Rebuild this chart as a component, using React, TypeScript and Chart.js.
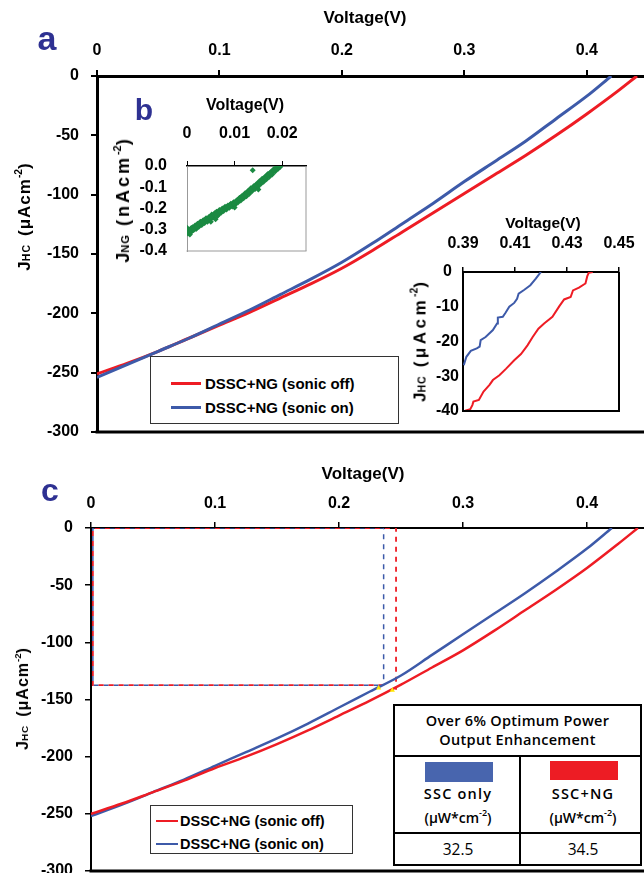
import React, { useEffect, useRef } from 'react';
import { Chart, registerables } from 'chart.js';
Chart.register(...registerables);

const FONT = "'Liberation Sans', Arial, Helvetica, sans-serif";
const TFONT = "'Open Sans', 'Noto Sans', sans-serif";
const RED = '#ee1c24';
const BLUE = '#3d5aa9';
const GREEN = '#1b8a42';
const NAVY = '#2e3192';

// ---------- Panel a: J-V curves ----------
const voltBlueA = [0, 0.025, 0.05, 0.075, 0.1, 0.125, 0.15, 0.175, 0.2, 0.225, 0.25, 0.275, 0.3, 0.325, 0.35, 0.375, 0.4, 0.42];
const jBlueA = [-254, -243, -232, -221, -209, -197, -184, -171, -157, -141, -124, -107, -89, -72, -55, -36, -17, 0];
const voltRedA = [0, 0.025, 0.05, 0.075, 0.1, 0.125, 0.15, 0.175, 0.2, 0.225, 0.25, 0.275, 0.3, 0.325, 0.35, 0.375, 0.4, 0.425, 0.441];
const jRedA = [-251, -242, -232, -221, -210, -199, -187, -175, -162, -147, -131, -115, -99, -83, -67, -50, -32, -13, 0];

// ---------- Inset b: NG current ----------
const voltNG = [0.0000, 0.0002, 0.0004, 0.0006, 0.0008, 0.0010, 0.0012, 0.0014, 0.0017, 0.0019, 0.0022, 0.0025, 0.0028, 0.0031, 0.0034, 0.0037, 0.0040, 0.0043, 0.0046, 0.0049, 0.0052, 0.0055, 0.0058, 0.0060, 0.0062, 0.0065, 0.0068, 0.0071, 0.0074, 0.0077, 0.0080, 0.0083, 0.0086, 0.0089, 0.0092, 0.0095, 0.0098, 0.0101, 0.0104, 0.0107, 0.0110, 0.0113, 0.0116, 0.0119, 0.0122, 0.0125, 0.0128, 0.0131, 0.0134, 0.0137, 0.0138, 0.0140, 0.0143, 0.0146, 0.0149, 0.0152, 0.0155, 0.0158, 0.0161, 0.0164, 0.0167, 0.0170, 0.0173, 0.0176, 0.0179, 0.0182, 0.0185, 0.0188, 0.0191, 0.0194, 0.0196, 0.0050, 0.0100, 0.0150, 0.0003, 0.0021, 0.0064, 0.0112, 0.0157,
  0.0001, 0.0005, 0.0009, 0.0013, 0.0016, 0.0020, 0.0024, 0.0027, 0.0030, 0.0033, 0.0036, 0.0039, 0.0042, 0.0045, 0.0048, 0.0051, 0.0054, 0.0057, 0.0061, 0.0066, 0.0069, 0.0072, 0.0075, 0.0078, 0.0081, 0.0084, 0.0087, 0.0090, 0.0093, 0.0096, 0.0099, 0.0102, 0.0105, 0.0108, 0.0111, 0.0114, 0.0117, 0.0120, 0.0123, 0.0126, 0.0129, 0.0132, 0.0135, 0.0141, 0.0144, 0.0147, 0.0150, 0.0153, 0.0156, 0.0159, 0.0162, 0.0165, 0.0168, 0.0171, 0.0174, 0.0177, 0.0180, 0.0183, 0.0186, 0.0189, 0.0192, 0.0195];
const jNG = [-0.290, -0.318, -0.300, -0.322, -0.295, -0.308, -0.288, -0.301, -0.280, -0.296, -0.272, -0.286, -0.262, -0.278, -0.255, -0.268, -0.246, -0.262, -0.240, -0.252, -0.228, -0.242, -0.222, -0.250, -0.215, -0.230, -0.207, -0.221, -0.200, -0.212, -0.192, -0.205, -0.186, -0.197, -0.178, -0.190, -0.170, -0.182, -0.162, -0.172, -0.150, -0.162, -0.140, -0.152, -0.128, -0.142, -0.118, -0.130, -0.105, -0.118, -0.020, -0.095, -0.108, -0.085, -0.098, -0.072, -0.085, -0.060, -0.074, -0.050, -0.062, -0.038, -0.050, -0.028, -0.040, -0.015, -0.026, -0.006, -0.014, 0.000, -0.004, -0.262, -0.195, -0.110, -0.310, -0.290, -0.235, -0.148, -0.075,
  -0.305, -0.312, -0.292, -0.296, -0.290, -0.283, -0.275, -0.271, -0.266, -0.260, -0.259, -0.252, -0.255, -0.248, -0.243, -0.236, -0.234, -0.228, -0.226, -0.219, -0.214, -0.208, -0.206, -0.199, -0.198, -0.192, -0.191, -0.184, -0.183, -0.176, -0.176, -0.168, -0.166, -0.158, -0.156, -0.148, -0.146, -0.138, -0.136, -0.126, -0.124, -0.112, -0.112, -0.102, -0.092, -0.090, -0.080, -0.079, -0.068, -0.066, -0.056, -0.055, -0.044, -0.043, -0.034, -0.033, -0.022, -0.021, -0.012, -0.010, -0.005, -0.002];

// ---------- Inset: zoom near Voc ----------
const voltBlueZ = [0.3903, 0.3913, 0.393, 0.3953, 0.3964, 0.3968, 0.3987, 0.4015, 0.4031, 0.4034, 0.4053, 0.4063, 0.4078, 0.4097, 0.4108, 0.4114, 0.4136, 0.4159, 0.418, 0.4196, 0.42];
const jBlueZ = [-26.8, -24.4, -22.7, -22, -21.5, -19.6, -18.7, -16.7, -14.8, -13.1, -12.9, -11.8, -10, -8.9, -7.7, -6.2, -5.1, -3.8, -1.9, -0.3, 0];
const voltRedZ = [0.3908, 0.3928, 0.3936, 0.394, 0.3961, 0.3979, 0.4002, 0.4015, 0.404, 0.4066, 0.4097, 0.4123, 0.4148, 0.4168, 0.419, 0.4212, 0.4244, 0.427, 0.4289, 0.4314, 0.4323, 0.4346, 0.4371, 0.4378, 0.4384, 0.4399];
const jRedZ = [-39.9, -39.5, -38.3, -37.3, -36.8, -34.4, -32.5, -31.1, -29.7, -27.8, -25.4, -23.6, -21.1, -18.7, -16.3, -14.8, -12.9, -9.9, -7.9, -7.2, -5.3, -4.5, -3.3, -1.2, -0.2, 0];

// ---------- Panel c ----------
const voltBlueC = [0, 0.025, 0.05, 0.075, 0.1, 0.125, 0.15, 0.175, 0.2, 0.225, 0.25, 0.275, 0.3, 0.325, 0.35, 0.375, 0.4, 0.42];
const jBlueC = [-252, -242, -231, -220, -208, -196, -184, -171, -157, -143, -129, -111, -93, -75, -57, -38, -18, 0];
const voltRedC = [0, 0.025, 0.05, 0.075, 0.1, 0.125, 0.15, 0.175, 0.2, 0.225, 0.25, 0.275, 0.3, 0.325, 0.35, 0.375, 0.4, 0.425, 0.441];
const jRedC = [-250, -241, -231, -221, -210, -200, -189, -177, -164, -151, -137, -122, -107, -90, -72, -54, -35, -14, 0];
const mppVoltBlue = 0.236;
const mppVoltRed = 0.246;
const mppJ = -137.5;
const mppRedDropJ = -141.5;
const boxLeftVolt = 0.0015;
const markerVolts = [0.232, 0.243];
const markerJs = [-140, -142];

// table & legend text
const tableHeader = ['Over 6% Optimum Power', 'Output Enhancement'];
const tableCols = ['SSC only', 'SSC+NG'];
const tableValues = ['32.5', '34.5'];
const legendLabels = ['DSSC+NG (sonic off)', 'DSSC+NG (sonic on)'];

const pts = (xs: number[], ys: (number | null)[]) => xs.map((x, i) => ({ x, y: ys[i] }));

const framePlugin = {
  id: 'frame',
  afterDatasetsDraw(chart: any, _a: any, opts: any) {
    const { ctx, chartArea: a } = chart;
    ctx.save();
    if (opts && opts.bottom) {
      ctx.strokeStyle = opts.bottom.color;
      ctx.lineWidth = opts.bottom.width;
      ctx.beginPath();
      ctx.moveTo(a.left - opts.bottom.width / 2, a.bottom);
      ctx.lineTo(a.right + opts.bottom.width / 2, a.bottom);
      ctx.stroke();
    }
    if (opts && opts.right) {
      ctx.strokeStyle = opts.right.color;
      ctx.lineWidth = opts.right.width;
      ctx.beginPath();
      ctx.moveTo(a.right, a.top);
      ctx.lineTo(a.right, a.bottom);
      ctx.stroke();
    }
    ctx.restore();
  },
};

const fmt = (d: number) => (v: any) => {
  const n = Number(Number(v).toFixed(d));
  return (Object.is(n, -0) ? 0 : n).toFixed(d);
};
const fmtTrim = (v: any) => {
  const n = Number(Number(v).toFixed(3));
  return String(Object.is(n, -0) ? 0 : n);
};

function axisX(o: any) {
  return {
    type: 'linear', position: 'top', min: o.min, max: o.max, bounds: 'data',
    afterFit: (s: any) => { s.height = o.h; },
    border: { display: true, color: o.borderColor || '#000', width: o.borderW },
    grid: { display: true, drawOnChartArea: false, drawTicks: true, tickLength: o.tick, color: '#000', lineWidth: o.tickW },
    ticks: { stepSize: o.step, includeBounds: o.includeBounds ?? false, padding: o.pad, color: '#000', maxRotation: 0, autoSkip: false,
      font: { family: FONT, size: o.size, weight: 'bold' }, callback: o.cb || fmtTrim },
  };
}
function axisY(o: any) {
  return {
    type: 'linear', position: 'left', min: o.min, max: o.max, bounds: 'data',
    afterFit: (s: any) => { s.width = o.w; },
    border: { display: true, color: o.borderColor || '#000', width: o.borderW },
    grid: { display: o.tick > 0, drawOnChartArea: false, drawTicks: true, tickLength: o.tick, color: '#000', lineWidth: o.tickW },
    ticks: { stepSize: o.step, padding: o.pad, color: '#000', autoSkip: false, crossAlign: o.cross || 'near',
      font: { family: FONT, size: o.size, weight: 'bold' }, callback: o.cb || fmtTrim },
  };
}

function baseOptions(pad: any, frame: any, scales: any) {
  return {
    responsive: false, animation: false, events: [],
    layout: { padding: pad },
    plugins: { legend: { display: false }, tooltip: { enabled: false }, frame },
    scales,
  };
}

function ChartBox({ left, top, width, height, make }: any) {
  const ref = useRef<HTMLCanvasElement>(null);
  useEffect(() => {
    const chart = new Chart(ref.current as HTMLCanvasElement, make());
    return () => chart.destroy();
  }, []);
  return (
    <div style={{ position: 'absolute', left, top, width, height }}>
      <canvas ref={ref} width={width} height={height} style={{ width, height, display: 'block' }} />
    </div>
  );
}

const line = (data: any, color: string, w: number, extra: any = {}) => ({
  data, borderColor: color, backgroundColor: color, borderWidth: w, pointRadius: 0, fill: false,
  cubicInterpolationMode: 'monotone', ...extra,
});

// Panel a: chart area 97..648 x 76..432
const makeA = () => ({
  type: 'line',
  data: { datasets: [line(pts(voltBlueA, jBlueA), BLUE, 3), line(pts(voltRedA, jRedA), RED, 3)] },
  options: baseOptions({ top: 0, left: 0, right: 12, bottom: 23 }, { bottom: { color: '#000', width: 3 } }, {
    x: axisX({ min: 0, max: 0.45, step: 0.1, h: 76, tick: 6, tickW: 2, borderW: 3, pad: 10, size: 16 }),
    y: axisY({ min: -300, max: 0, step: 50, w: 97, tick: 6, tickW: 2, borderW: 3, pad: 12, size: 16 }),
  }),
  plugins: [framePlugin],
});

// Inset b: chart area 187..306 x 166..251
const makeB = () => ({
  type: 'scatter',
  data: { datasets: [{ data: pts(voltNG, jNG), backgroundColor: GREEN, borderColor: GREEN, pointRadius: 3, pointStyle: 'rectRot', borderWidth: 0 }] },
  options: baseOptions({ top: 0, left: 0, right: 16, bottom: 31 }, { bottom: { color: '#999', width: 1 }, right: { color: '#999', width: 1 } }, {
    x: axisX({ min: 0, max: 0.025, step: 0.01, h: 71, tick: 5, tickW: 1, borderW: 1.5, pad: 18, size: 16 }),
    y: axisY({ min: -0.4, max: 0, step: 0.1, w: 87, tick: 0, tickW: 1, borderW: 1, borderColor: '#999', pad: 20, size: 16, cb: fmt(1) }),
  }),
  plugins: [framePlugin],
});

// Inset: chart area 463..619 x 272..411
const makeZ = () => ({
  type: 'line',
  data: { datasets: [line(pts(voltBlueZ, jBlueZ), BLUE, 2, { cubicInterpolationMode: 'default', tension: 0 }), line(pts(voltRedZ, jRedZ), RED, 2, { cubicInterpolationMode: 'default', tension: 0 })] },
  options: baseOptions({ top: 0, left: 0, right: 31, bottom: 15 }, { bottom: { color: '#000', width: 2 }, right: { color: '#000', width: 2 } }, {
    x: axisX({ min: 0.39, max: 0.45, step: 0.02, h: 72, tick: 5, tickW: 1.5, borderW: 2, pad: 14, size: 16, includeBounds: true, cb: fmt(2) }),
    y: axisY({ min: -40, max: 0, step: 10, w: 63, tick: 0, tickW: 1, borderW: 2, pad: 4, size: 16, cross: 'center' }),
  }),
  plugins: [framePlugin],
});

// Panel c: chart area 91..649 x 528..871
const makeC = () => {
  const blueBox = [
    { x: mppVoltBlue, y: mppJ }, { x: boxLeftVolt, y: mppJ }, { x: boxLeftVolt, y: 0 }, { x: mppVoltBlue, y: 0 }, { x: mppVoltBlue, y: mppJ },
  ];
  const redBox = [
    { x: mppVoltBlue, y: mppJ }, { x: boxLeftVolt, y: mppJ }, { x: boxLeftVolt, y: 0 }, { x: mppVoltRed, y: 0 }, { x: mppVoltRed, y: mppRedDropJ },
  ];
  return {
    type: 'line',
    data: {
      datasets: [
        { data: pts(markerVolts, markerJs), showLine: false, pointRadius: 3, pointStyle: 'triangle', backgroundColor: '#ffe600', borderColor: '#ffe600', borderWidth: 0 },
        line(pts(voltRedC, jRedC), RED, 2.5),
        line(pts(voltBlueC, jBlueC), BLUE, 2.5),
        line(redBox, RED, 1.8, { borderDash: [5, 5], borderDashOffset: 0, cubicInterpolationMode: 'default', tension: 0 }),
        line(blueBox, BLUE, 1.5, { borderDash: [5, 5], borderDashOffset: 5, cubicInterpolationMode: 'default', tension: 0 }),
      ],
    },
    options: baseOptions({ top: 0, left: 0, right: 12, bottom: 23 }, { bottom: { color: '#000', width: 3 } }, {
      x: axisX({ min: 0, max: 0.45, step: 0.1, h: 78, tick: 6, tickW: 1.5, borderW: 2, pad: 9, size: 16 }),
      y: axisY({ min: -300, max: 0, step: 50, w: 91, tick: 6, tickW: 1.5, borderW: 2, pad: 12, size: 16 }),
    }),
    plugins: [framePlugin],
  };
};

function Text({ cx, cy, size, children, weight = 'bold', color = '#000', family = FONT, style = {} }: any) {
  return (
    <div style={{ position: 'absolute', left: cx, top: cy, transform: 'translate(-50%,-50%)', whiteSpace: 'nowrap',
      fontFamily: family, fontWeight: weight, fontSize: size, lineHeight: 1, color, ...style }}>{children}</div>
  );
}

function YTitle({ cx, cy, size, sub, unit, spacing, gap }: any) {
  return (
    <div style={{ position: 'absolute', left: cx, top: cy, transform: 'translate(-50%,-50%) rotate(-90deg)', whiteSpace: 'nowrap',
      fontFamily: FONT, fontWeight: 'bold', fontSize: size, lineHeight: 1, color: '#000' }}>
      <span>J</span>
      <span style={{ fontSize: size * 0.62, letterSpacing: 1 }}>{sub}</span>
      <span style={{ marginLeft: gap, letterSpacing: spacing }}>({unit}</span>
      <span style={{ fontSize: size * 0.6, position: 'relative', top: -size * 0.45 }}>-2</span>
      <span>)</span>
    </div>
  );
}

function Legend({ left, top, width, height, rows, lineX, lineW, lineT, textX, size }: any) {
  return (
    <div style={{ position: 'absolute', left, top, width, height, boxSizing: 'border-box', border: '1px solid #333', background: '#fff' }}>
      {rows.map((r: any, i: number) => (
        <React.Fragment key={i}>
          <div style={{ position: 'absolute', left: lineX, top: r.y - lineT / 2, width: lineW, height: lineT, background: r.color }} />
          <div style={{ position: 'absolute', left: textX, top: r.y, transform: 'translateY(-50%)', whiteSpace: 'nowrap', fontFamily: FONT,
            fontWeight: 'bold', fontSize: size, lineHeight: 1, color: '#000' }}>{r.label}</div>
        </React.Fragment>
      ))}
    </div>
  );
}

function Table() {
  const L = 393, T = 704, W = 249, H = 162;
  const mid = 519 - L;
  const r1 = 755 - T, r2 = 832 - T;
  return (
    <div style={{ position: 'absolute', left: L, top: T, width: W, height: H, boxSizing: 'border-box', border: '2px solid #000', background: '#fff' }}>
      <div style={{ position: 'absolute', left: 0, right: 0, top: r1 - 2, height: 1.5, background: '#000' }} />
      <div style={{ position: 'absolute', left: 0, right: 0, top: r2 - 2, height: 1.5, background: '#000' }} />
      <div style={{ position: 'absolute', left: mid - 2, top: r1 - 2, width: 1.5, height: H - r1, background: '#000' }} />
      <Text cx={W / 2 - 2} cy={720.5 - T - 2} size={14.5} weight={600} family={TFONT} style={{ letterSpacing: 0.3 }}>{tableHeader[0]}</Text>
      <Text cx={W / 2 - 2} cy={740 - T - 2} size={14.5} weight={600} family={TFONT} style={{ letterSpacing: 0.3 }}>{tableHeader[1]}</Text>
      <div style={{ position: 'absolute', left: 425 - L - 2, top: 762 - T - 2, width: 68, height: 20, background: '#4865ae' }} />
      <div style={{ position: 'absolute', left: 550 - L - 2, top: 761 - T - 2, width: 68, height: 19, background: '#ed1c24' }} />
      <Text cx={458 - L - 2} cy={794 - T - 2} size={14.5} weight={600} family={TFONT} style={{ letterSpacing: 1.2 }}>{tableCols[0]}</Text>
      <Text cx={583 - L - 2} cy={794 - T - 2} size={14.5} weight={600} family={TFONT} style={{ letterSpacing: 1.2 }}>{tableCols[1]}</Text>
      <Text cx={458 - L - 2} cy={817 - T - 2} size={14} weight={600} family={TFONT}>(μW*cm<sup style={{ fontSize: 9, position: 'relative', top: -1 }}>-2</sup>)</Text>
      <Text cx={583 - L - 2} cy={817 - T - 2} size={14} weight={600} family={TFONT}>(μW*cm<sup style={{ fontSize: 9, position: 'relative', top: -1 }}>-2</sup>)</Text>
      <Text cx={458 - L - 2} cy={850 - T - 2} size={15.5} weight={400} family={TFONT}>{tableValues[0]}</Text>
      <Text cx={583 - L - 2} cy={850 - T - 2} size={15.5} weight={400} family={TFONT}>{tableValues[1]}</Text>
    </div>
  );
}

export default function App() {
  return (
    <div style={{ position: 'absolute', left: 0, top: 0, width: 644, height: 873, overflow: 'hidden', background: '#fff' }}>
      <ChartBox left={0} top={0} width={660} height={455} make={makeA} />
      <ChartBox left={100} top={95} width={222} height={187} make={makeB} />
      <ChartBox left={400} top={200} width={250} height={226} make={makeZ} />
      <ChartBox left={0} top={450} width={661} height={444} make={makeC} />

      <Text cx={365} cy={17} size={17}>Voltage(V)</Text>
      <Text cx={47} cy={38} size={34} color={NAVY}>a</Text>
      <YTitle cx={24} cy={217} size={17} sub="HC" unit="μAcm" spacing={1} gap={8} />

      <Text cx={144} cy={110} size={30} color={NAVY}>b</Text>
      <Text cx={245} cy={105} size={16}>Voltage(V)</Text>
      <YTitle cx={123} cy={201} size={18} sub="NG" unit="nAcm" spacing={3} gap={8} />

      <Text cx={543} cy={223} size={15.5}>Voltage(V)</Text>
      <YTitle cx={420} cy={342} size={17} sub="HC" unit="μAcm" spacing={3.5} gap={8} />

      <Legend left={150} top={356} width={249} height={68} lineX={20} lineW={30} lineT={3} textX={54} size={15}
        rows={[{ y: 26, color: RED, label: legendLabels[0] }, { y: 50, color: BLUE, label: legendLabels[1] }]} />

      <Text cx={363} cy={473} size={17}>Voltage(V)</Text>
      <Text cx={50} cy={490} size={32} color={NAVY}>c</Text>
      <YTitle cx={23} cy={699} size={16} sub="HC" unit="μAcm" spacing={1} gap={8} />

      <Legend left={150} top={805} width={203} height={49} lineX={5} lineW={22} lineT={2.5} textX={29} size={14.5}
        rows={[{ y: 15, color: RED, label: legendLabels[0] }, { y: 38, color: BLUE, label: legendLabels[1] }]} />

      <Table />
    </div>
  );
}
